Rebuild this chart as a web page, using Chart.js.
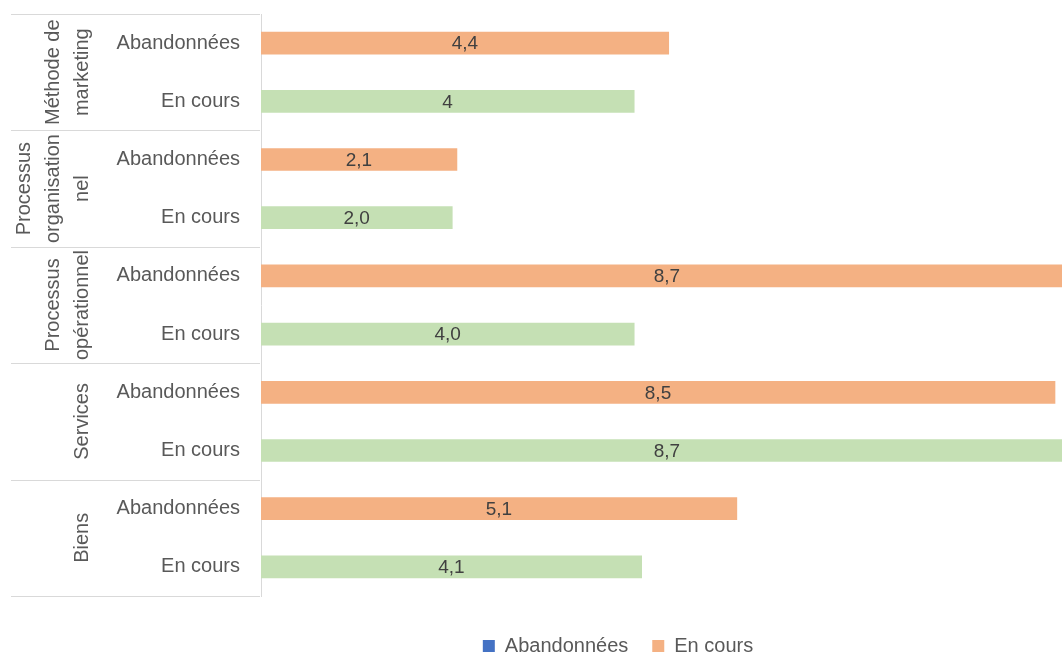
<!DOCTYPE html>
<html>
<head>
<meta charset="utf-8">
<script src="https://cdn.jsdelivr.net/npm/chart.js@4.4.1/dist/chart.umd.min.js"></script>
<style>
  html, body { margin: 0; padding: 0; background: #fff; }
  #wrap { width: 1062px; height: 655px; position: relative; }
</style>
</head>
<body>
<div id="wrap"><canvas id="myChart"></canvas></div>
<script>
// données du graphique
const groups = ['Méthode de marketing', 'Processus organisationnel', 'Processus opérationnel', 'Services', 'Biens'];
const groupLines = [['Méthode de', 'marketing'], ['Processus', 'organisation', 'nel'], ['Processus', 'opérationnel'], ['Services'], ['Biens']];
const statuts = ['Abandonnées', 'En cours'];
const abandonnees = [4.37, 2.1, 8.7, 8.51, 5.1];
const enCours = [4.0, 2.05, 4.0, 8.7, 4.08];
const abandonneesText = ['4,4', '2,1', '8,7', '8,5', '5,1'];
const enCoursText = ['4', '2,0', '4,0', '8,7', '4,1'];

const FONT = "'Liberation Sans Narrow', 'Arial Narrow', 'Liberation Sans', Arial, sans-serif";
const ORANGE = '#F4B183';
const GREEN = '#C5E0B4';
const BLUE = '#4472C4';
const GREY = '#595959';

// une ligne par statut dans chaque groupe
const labels = [];
const dataAb = [];
const dataEc = [];
const textAb = [];
const textEc = [];
groups.forEach((g, i) => {
    labels.push(statuts[0]);
    dataAb.push(abandonnees[i]); dataEc.push(null);
    textAb.push(abandonneesText[i]); textEc.push(null);
    labels.push(statuts[1]);
    dataAb.push(null); dataEc.push(enCours[i]);
    textAb.push(null); textEc.push(enCoursText[i]);
});
const texts = [textAb, textEc];

// séparateurs et libellés des groupes
const groupPlugin = {
    id: 'groupAxis',
    afterLayout(chart) {
        // place la légende comme dans l'original
        chart.legend.left += 87;
        chart.legend.right += 87;
        chart.legend.top += 16;
        chart.legend.bottom += 16;
    },
    afterDraw(chart) {
        const ctx = chart.ctx;
        const y = chart.scales.y;
        ctx.save();
        ctx.strokeStyle = '#d9d9d9';
        ctx.lineWidth = 1;
        for (let b = 0; b <= groups.length; b++) {
            const py = Math.round(y.getPixelForValue(b * 2 - 0.5)) + 0.5;
            ctx.beginPath();
            ctx.moveTo(11, py);
            ctx.lineTo(260, py);
            ctx.stroke();
        }
        ctx.fillStyle = GREY;
        ctx.font = '20px ' + FONT;
        ctx.textAlign = 'center';
        ctx.textBaseline = 'middle';
        groupLines.forEach((lines, i) => {
            const cy = (y.getPixelForValue(i * 2 - 0.5) + y.getPixelForValue(i * 2 + 1.5)) / 2;
            const n = lines.length;
            lines.forEach((t, k) => {
                const cx = 82 - (n - 1 - k) * 29;
                ctx.save();
                ctx.translate(cx, cy);
                ctx.rotate(-Math.PI / 2);
                ctx.fillText(t, 0, 0);
                ctx.restore();
            });
        });
        ctx.restore();
    }
};

// étiquettes de valeurs au centre des barres
const valuePlugin = {
    id: 'valueLabels',
    afterDatasetsDraw(chart) {
        const ctx = chart.ctx;
        const x = chart.scales.x;
        ctx.save();
        ctx.fillStyle = '#404040';
        ctx.font = '19px ' + FONT;
        ctx.textAlign = 'center';
        ctx.textBaseline = 'middle';
        chart.data.datasets.forEach((ds, di) => {
            const meta = chart.getDatasetMeta(di);
            meta.data.forEach((bar, i) => {
                const v = ds.data[i];
                if (v === null) return;
                const cx = (x.getPixelForValue(0) + x.getPixelForValue(v)) / 2;
                ctx.fillText(texts[di][i], cx, bar.y + 1);
            });
        });
        ctx.restore();
    }
};

const ctx = document.getElementById('myChart').getContext('2d');
const myChart = new Chart(ctx, {
    type: 'bar',
    data: {
        labels: labels,
        datasets: [{
            label: statuts[0],
            data: dataAb,
            backgroundColor: ORANGE,
            barThickness: 22,
            grouped: false
        }, {
            label: statuts[1],
            data: dataEc,
            backgroundColor: GREEN,
            barThickness: 22,
            grouped: false
        }]
    },
    options: {
        indexAxis: 'y',
        responsive: true,
        maintainAspectRatio: false,
        animation: false,
        events: [],
        layout: {
            padding: { top: 14, right: 0, bottom: 5, left: 0 }
        },
        scales: {
            x: {
                display: false,
                min: 0,
                max: 8.585
            },
            y: {
                afterFit(scale) {
                    scale.width = 261;
                    scale.paddingTop = 0;
                    scale.paddingBottom = 0;
                },
                grid: { display: false, drawTicks: false },
                border: { display: true, color: '#d9d9d9' },
                ticks: {
                    padding: 21,
                    color: GREY,
                    font: { family: FONT, size: 20 }
                }
            }
        },
        plugins: {
            tooltip: { enabled: false },
            legend: {
                position: 'bottom',
                labels: {
                    color: GREY,
                    font: { family: FONT, size: 20 },
                    boxWidth: 12,
                    boxHeight: 12,
                    padding: 24,
                    generateLabels() {
                        return [
                            { text: statuts[0], fillStyle: BLUE, strokeStyle: BLUE, fontColor: GREY, lineWidth: 0, datasetIndex: 0 },
                            { text: statuts[1], fillStyle: ORANGE, strokeStyle: ORANGE, fontColor: GREY, lineWidth: 0, datasetIndex: 1 }
                        ];
                    }
                }
            }
        }
    },
    plugins: [groupPlugin, valuePlugin]
});
</script>
</body>
</html>
